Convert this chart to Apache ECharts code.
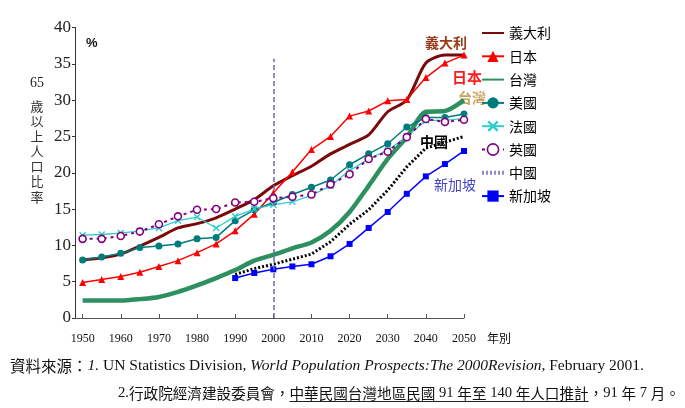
<!DOCTYPE html>
<html>
<head>
<meta charset="utf-8">
<script src="https://cdn.jsdelivr.net/npm/echarts@6/dist/echarts.min.js"></script>
<style>
  html, body { margin: 0; padding: 0; background: #fff; }
  #main { width: 685px; height: 408px; }
</style>
</head>
<body>
<div id="main"></div>
<script>
// 年份 (每五年一點)
const years = [1950, 1955, 1960, 1965, 1970, 1975, 1980, 1985, 1990, 1995, 2000,
  2005, 2010, 2015, 2020, 2025, 2030, 2035, 2040, 2045, 2050]
const yearsLate = [1990, 1995, 2000, 2005, 2010, 2015, 2020, 2025, 2030, 2035, 2040, 2045, 2050]
const xTicks = [1950, 1960, 1970, 1980, 1990, 2000, 2010, 2020, 2030, 2040, 2050]

// 65歲以上人口比率 (%)
const italy = [8.0, 8.3, 8.8, 9.9, 11.1, 12.4, 13.0, 13.8, 15.0, 16.3, 18.2,
  19.6, 20.9, 22.6, 23.9, 25.2, 28.4, 30.0, 35.1, 36.2, 36.2]
const japan = [4.9, 5.3, 5.7, 6.3, 7.1, 7.9, 9.0, 10.2, 12.0, 14.3, 17.2,
  20.1, 23.2, 25.0, 27.8, 28.5, 29.9, 30.1, 33.1, 35.1, 36.2]
const taiwan = [2.4, 2.4, 2.4, 2.6, 2.9, 3.6, 4.5, 5.5, 6.6, 7.9, 8.7,
  9.6, 10.4, 12.0, 14.6, 18.2, 21.9, 24.9, 28.4, 28.5, 30.0]
const usa = [8.0, 8.4, 8.9, 9.7, 9.9, 10.2, 10.9, 11.1, 13.4, 14.9, 15.9,
  17.0, 18.0, 19.0, 21.1, 22.6, 24.0, 26.3, 27.6, 27.6, 28.1]
const france = [11.4, 11.5, 11.7, 12.0, 12.4, 13.4, 13.9, 12.4, 14.0, 15.0, 15.6,
  16.0, 16.9, 18.2, 20.3, 21.9, 23.1, 25.0, 27.2, 27.2, 27.5]
const uk = [10.9, 10.9, 11.3, 11.9, 12.9, 14.0, 14.9, 15.0, 15.9, 16.0, 16.5,
  16.7, 17.0, 18.4, 19.8, 21.9, 22.9, 24.9, 27.4, 27.0, 27.3]
const china = [6.0, 6.8, 7.4, 8.1, 8.8, 10.5, 12.9, 14.9, 17.6, 20.8, 23.4, 24.2, 25.0]
const singapore = [5.5, 6.2, 6.7, 7.1, 7.4, 8.5, 10.2, 12.4, 14.6, 17.1, 19.5, 21.2, 23.0]

const pair = (xs, ys) => xs.map((x, i) => [x, ys[i]])

const CJK = '"Noto Sans CJK TC", "Noto Sans CJK SC", sans-serif'
const SERIF = '"Liberation Serif", "DejaVu Serif", serif'

// 量字寬, 用來畫底線
const ctx = document.createElement('canvas').getContext('2d')
function textW(t, font) { ctx.font = font; return ctx.measureText(t).width }

const font1Cjk = '15.5px ' + CJK
const font1Lat = '15.5px ' + SERIF
const fontCjk = '14.6px ' + CJK
const fontLat = '14.6px ' + SERIF
const line2 = [
  ['lat', '2.'], ['cjk', '行政院經濟建設委員會，'],
  ['cjk', '中華民國台灣地區民國', 1], ['lat', ' 91 ', 1], ['cjk', '年至', 1],
  ['lat', ' 140 ', 1], ['cjk', '年人口推計', 1],
  ['cjk', '，'], ['lat', '91 '], ['cjk', '年'], ['lat', ' 7 '], ['cjk', '月。']
]
let ux0 = null, ux1 = null, acc = 0
line2.forEach(p => {
  const w = textW(p[1], p[0] === 'cjk' ? fontCjk : fontLat)
  if (p[2]) { if (ux0 === null) ux0 = acc; ux1 = acc + w }
  acc += w
})
const line2Text = line2.map(p => '{' + p[0] + '|' + p[1] + '}').join('')
const L2X = 118

const noSym = { opacity: 0 }
const ukSym = { color: '#ffffff', borderColor: '#800080', borderWidth: 1.6, borderType: 'solid', opacity: 1 }

const chart = echarts.init(document.getElementById('main'))
chart.setOption({
  animation: false,
  backgroundColor: '#fff',
  grid: { left: 75, right: 221, top: 27.5, bottom: 90 },
  legend: {
    orient: 'vertical',
    left: 480,
    top: 26,
    padding: 0,
    itemWidth: 22,
    itemHeight: 14,
    itemGap: 9.3,
    textStyle: { fontFamily: CJK, fontSize: 14, color: '#000' },
    data: [
      { name: '義大利', itemStyle: noSym },
      '日本',
      { name: '台灣', itemStyle: noSym },
      '美國',
      '法國',
      { name: '英國', itemStyle: ukSym },
      { name: '中國', itemStyle: noSym, lineStyle: { color: '#8c8cc8', width: 4, type: [2, 2] } },
      '新加坡'
    ]
  },
  xAxis: {
    type: 'value',
    min: 1948,
    max: 2050,
    splitLine: { show: false },
    axisLine: { lineStyle: { color: '#555', width: 1 } },
    axisTick: { inside: true, length: 4, customValues: xTicks, lineStyle: { color: '#555' } },
    axisLabel: {
      customValues: xTicks,
      formatter: v => String(v),
      fontFamily: SERIF, fontSize: 12, color: '#111', margin: 15
    }
  },
  yAxis: {
    type: 'value',
    min: 0,
    max: 40,
    interval: 5,
    splitLine: { show: false },
    axisLine: { show: true, lineStyle: { color: '#333' } },
    axisTick: { show: true, length: 3, lineStyle: { color: '#333' } },
    axisLabel: { fontFamily: SERIF, fontSize: 17, color: '#222', margin: 4 }
  },
  series: [
    {
      name: '義大利', type: 'line', data: pair(years, italy), smooth: 0.25,
      showSymbol: false, symbol: 'none', color: '#7a0a0a',
      lineStyle: { width: 3, color: '#7a0a0a' }, z: 3
    },
    {
      name: '日本', type: 'line', data: pair(years, japan),
      symbol: 'triangle', symbolSize: 7, color: '#ff0000',
      lineStyle: { width: 1.5, color: '#ff0000' }, z: 4
    },
    {
      name: '台灣', type: 'line', data: pair(years, taiwan), smooth: 0.25,
      showSymbol: false, symbol: 'none', color: '#2e8b57',
      lineStyle: { width: 4.5, color: '#2e9060' }, z: 2,
      markLine: {
        silent: true, symbol: 'none', label: { show: false },
        lineStyle: { color: '#6b6ba8', type: [5, 3], width: 1.5 },
        data: [[{ coord: [2000, 0] }, { coord: [2000, 35.7] }]]
      }
    },
    {
      name: '美國', type: 'line', data: pair(years, usa),
      symbol: 'circle', symbolSize: 7, color: '#007b7b',
      lineStyle: { width: 1.5, color: '#007b7b' }, z: 4
    },
    {
      name: '法國', type: 'line', data: pair(years, france),
      symbol: 'path://M0,1.5L1.5,0L5,3.5L8.5,0L10,1.5L6.5,5L10,8.5L8.5,10L5,6.5L1.5,10L0,8.5L3.5,5Z',
      symbolSize: 7, color: '#33cccc',
      lineStyle: { width: 1.3, color: '#33cccc' }, z: 4
    },
    {
      name: '英國', type: 'line', data: pair(years, uk),
      symbol: 'circle', symbolSize: 7, showSymbol: true, color: '#800080',
      itemStyle: ukSym,
      lineStyle: { width: 2, color: '#800080', type: [3, 4] }, z: 5
    },
    {
      name: '中國', type: 'line', data: pair(yearsLate, china),
      showSymbol: false, symbol: 'none', color: '#000',
      lineStyle: { width: 3, color: '#000', type: [2, 2] }, z: 3
    },
    {
      name: '新加坡', type: 'line', data: pair(yearsLate, singapore),
      symbol: 'rect', symbolSize: 6, color: '#0000ff',
      lineStyle: { width: 1.5, color: '#0000ff' }, z: 4
    }
  ],
  graphic: [
    { type: 'text', left: 86, top: 37, style: { text: '%', font: 'bold 13px "Liberation Sans", Arial, sans-serif', fill: '#111' } },
    { type: 'text', x: 37, y: 83, style: { text: '65', font: '14px ' + SERIF, fill: '#222', align: 'center', verticalAlign: 'middle' } },
    {
      type: 'text', x: 37, y: 98.5,
      style: { text: '歲\n以\n上\n人\n口\n比\n率', font: '13px ' + CJK, lineHeight: 15.1, fill: '#333', align: 'center', verticalAlign: 'top' }
    },
    { type: 'text', x: 487, y: 338, style: { text: '年別', font: '12px ' + CJK, fill: '#111', verticalAlign: 'middle' } },
    // 曲線旁的國名
    { type: 'text', x: 446, y: 43, style: { text: '義大利', font: 'bold 14px ' + CJK, fill: '#9a3b1b', align: 'center', verticalAlign: 'middle' } },
    { type: 'text', x: 467, y: 77, style: { text: '日本', font: 'bold 15px ' + CJK, fill: '#ff1a1a', align: 'center', verticalAlign: 'middle' } },
    { type: 'text', x: 472, y: 98, style: { text: '台灣', font: 'bold 14px ' + CJK, fill: '#c9a25a', align: 'center', verticalAlign: 'middle' } },
    { type: 'text', x: 434, y: 142, style: { text: '中國', font: 'bold 14px ' + CJK, fill: '#000', align: 'center', verticalAlign: 'middle' } },
    { type: 'text', x: 455, y: 185, style: { text: '新加坡', font: '14px ' + CJK, fill: '#4646c6', align: 'center', verticalAlign: 'middle' } },
    // 資料來源
    {
      type: 'text', x: 10, y: 366,
      style: {
        text: '{cjk|資料來源：}{lati|1.}{lat| UN Statistics Division, }{lati|World Population Prospects:The 2000Revision}{lat|, February 2001.}',
        verticalAlign: 'middle',
        rich: {
          cjk: { font: font1Cjk, fill: '#111' },
          lat: { font: font1Lat, fill: '#111' },
          lati: { font: 'italic ' + font1Lat, fill: '#111' }
        }
      }
    },
    {
      type: 'text', x: L2X, y: 393,
      style: {
        text: line2Text,
        verticalAlign: 'middle',
        rich: {
          cjk: { font: fontCjk, fill: '#111' },
          lat: { font: fontLat, fill: '#111' }
        }
      }
    },
    {
      type: 'line',
      shape: { x1: L2X + ux0, y1: 401.5, x2: L2X + ux1, y2: 401.5 },
      style: { stroke: '#222', lineWidth: 1 }
    }
  ]
})
</script>
</body>
</html>
